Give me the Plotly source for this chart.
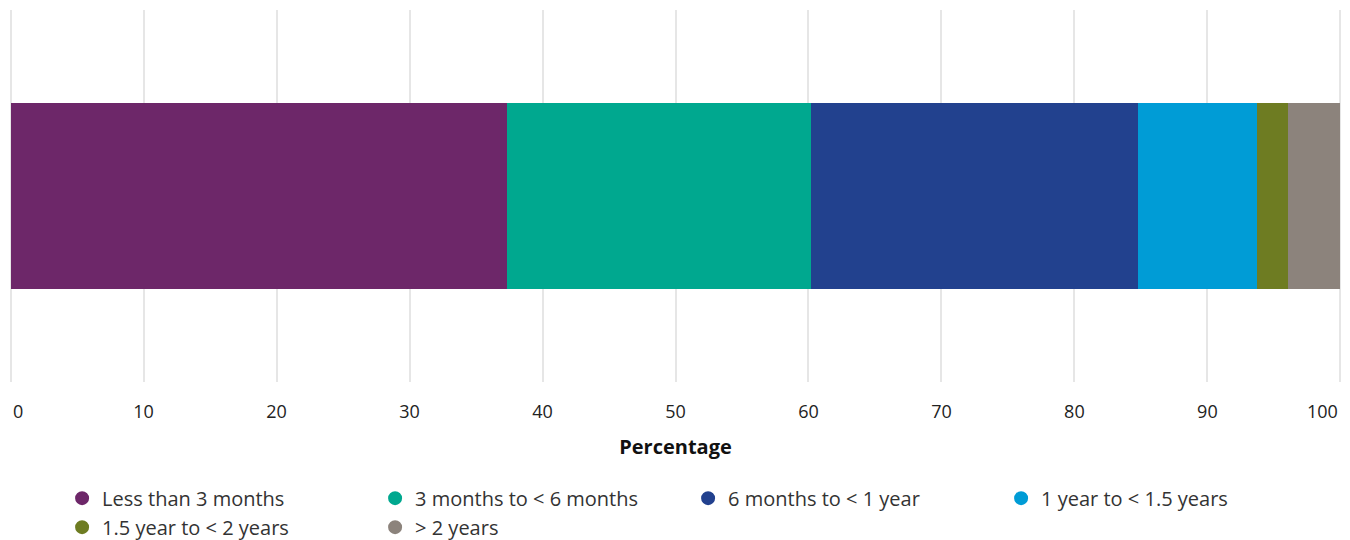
import plotly.graph_objects as go

categories = ["Less than 3 months", "3 months to < 6 months", "6 months to < 1 year",
              "1 year to < 1.5 years", "1.5 year to < 2 years", "> 2 years"]
values = [37.3, 22.9, 24.6, 8.9, 2.4, 3.9]
colors = ["#6d2769", "#00a88f", "#22418e", "#009cd6", "#6e7c22", "#8c837c"]
tick_vals = [0, 10, 20, 30, 40, 50, 60, 70, 80, 90, 100]
tick_labels = ["0", "10", "20", "30", "40", "50", "60", "70", "80", "90", "100"]

fig = go.Figure()
for name, v, c in zip(categories, values, colors):
    fig.add_trace(go.Bar(x=[v], y=["All"], orientation="h", name=name,
                         marker=dict(color=c, line=dict(width=0)),
                         showlegend=False, hoverinfo="skip"))
for name, c in zip(categories, colors):
    fig.add_trace(go.Scatter(x=[None], y=[None], mode="markers", name=name,
                             marker=dict(color=c, size=16, symbol="circle",
                                         line=dict(color=c, width=3))))

# inner ticks drawn by the axis; end ticks aligned inward like the reference
axis_text = [""] + tick_labels[1:-1] + [""]
fig.add_annotation(x=tick_vals[0], y=0, xref="x", yref="paper", text=tick_labels[0],
                   xanchor="left", yanchor="middle", yshift=-29, showarrow=False,
                   font=dict(size=18, color="#222"))
fig.add_annotation(x=tick_vals[-1], y=0, xref="x", yref="paper", text=tick_labels[-1],
                   xanchor="right", yanchor="middle", yshift=-29, showarrow=False,
                   font=dict(size=18, color="#222"))

fig.update_layout(
    barmode="stack",
    bargap=0.5,
    width=1350, height=540,
    margin=dict(l=4, r=3, t=10, b=158, autoexpand=False),
    plot_bgcolor="white", paper_bgcolor="white",
    font=dict(family="Open Sans, sans-serif", color="#222"),
    xaxis=dict(range=[-0.5, 100.5], tickvals=tick_vals, ticktext=axis_text, showgrid=True,
               gridcolor="#e6e6e6", gridwidth=2, zeroline=False,
               showline=False, ticks="", tickfont=dict(size=18, color="#222"),
               ticklabelstandoff=17, automargin=False,
               title=dict(text="<b>Percentage</b>", font=dict(size=20, color="#111"), standoff=17),
               fixedrange=True),
    yaxis=dict(showticklabels=False, showgrid=False, zeroline=False, fixedrange=True,
               automargin=False),
    legend=dict(orientation="h", xref="container", x=0.046, xanchor="left",
                yref="container", y=0.1136, yanchor="top", traceorder="normal",
                entrywidth=268, entrywidthmode="pixels", itemsizing="constant",
                font=dict(size=20, color="#333"), tracegroupgap=0),
)

fig.write_html("out.html", config={"displayModeBar": False},
               post_script="document.body.style.margin='0';document.body.style.overflow='hidden';")
